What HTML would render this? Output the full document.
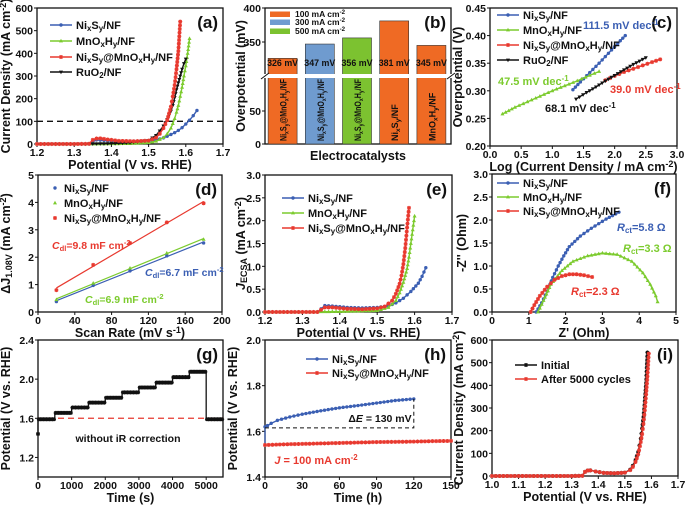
<!DOCTYPE html>
<html><head><meta charset="utf-8">
<style>
html,body{margin:0;padding:0;background:#fff;}
svg{display:block;font-family:"Liberation Sans",Arial,sans-serif;font-weight:bold;}
</style></head>
<body>
<svg id="fig" width="685" height="505" viewBox="0 0 685 505" xmlns="http://www.w3.org/2000/svg"></svg>
<script>
// ---------- data ----------
// (a) LSV
const aNiS_V=[1.2,1.25,1.3,1.34,1.35,1.36,1.38,1.4,1.43,1.46,1.5,1.52,1.54,1.55,1.56,1.57,1.58,1.59,1.6,1.61,1.62,1.63];
const aNiS_J=[0,0,0,0,10,18,16,13,12,12,14,18,27,34,42,50,60,72,88,105,125,148];
const aMn_V=[1.2,1.25,1.3,1.35,1.4,1.45,1.5,1.52,1.54,1.55,1.56,1.565,1.57,1.575,1.58,1.585,1.59,1.595,1.6,1.605,1.61];
const aMn_J=[0,0,0,0,1,2,6,12,28,45,70,90,112,140,170,210,250,300,345,400,465];
const aNM_V=[1.2,1.25,1.3,1.34,1.35,1.36,1.37,1.39,1.42,1.46,1.5,1.52,1.53,1.54,1.55,1.555,1.56,1.565,1.57,1.575,1.58,1.585];
const aNM_J=[0,0,0,1,18,24,25,20,14,12,15,28,45,70,105,135,165,210,260,330,410,540];
const aRu_V=[1.2,1.3,1.4,1.45,1.5,1.52,1.53,1.54,1.55,1.56,1.565,1.57,1.575,1.58,1.585,1.59,1.595,1.6];
const aRu_J=[0,0,2,6,16,38,58,80,108,145,170,205,240,270,300,330,355,375];
// (b) bars
const bCats=["Ni_xS_y@MnO_xH_y/NF","Ni_xS_y@MnO_xH_y/NF","Ni_xS_y@MnO_xH_y/NF","Ni_xS_y/NF","MnO_xH_y/NF"];
const bVals=[326,347,356,381,345];
const bColors=["#ef6a24","#6f9bcf","#7cc230","#ef6a24","#ef6a24"];
// (c) Tafel
const cNiS_x=[1.33,1.45,1.6,1.75,1.9,2.05,2.17];
const cNiS_y=[0.302,0.316,0.333,0.350,0.368,0.386,0.400];
const cMn_x=[0.2,0.4,0.6,0.8,1.0,1.2,1.4,1.6,1.75];
const cMn_y=[0.258,0.270,0.280,0.290,0.300,0.309,0.318,0.328,0.335];
const cNM_x=[1.85,2.0,2.15,2.3,2.45,2.6,2.73];
const cNM_y=[0.319,0.327,0.334,0.340,0.346,0.352,0.357];
const cRu_x=[1.38,1.55,1.7,1.85,2.0,2.15,2.3,2.5];
const cRu_y=[0.285,0.297,0.307,0.318,0.328,0.338,0.348,0.360];
// (d) Cdl
const dRate=[20,60,100,140,180];
const dNiS=[0.38,0.97,1.5,2.05,2.52];
const dMn=[0.45,1.05,1.6,2.15,2.65];
const dNM=[0.8,1.72,2.52,3.27,3.97];
// (e) ECSA-normalised
const eNiS_V=[1.2,1.3,1.34,1.36,1.38,1.42,1.46,1.5,1.53,1.55,1.57,1.59,1.61,1.62,1.63];
const eNiS_J=[0,0,0,0.14,0.13,0.1,0.09,0.1,0.13,0.2,0.3,0.45,0.63,0.78,0.97];
const eMn_V=[1.2,1.3,1.4,1.5,1.53,1.55,1.56,1.57,1.58,1.585,1.59,1.595,1.6];
const eMn_J=[0,0,0.01,0.03,0.1,0.25,0.42,0.65,0.95,1.2,1.5,1.8,2.1];
const eNM_V=[1.2,1.3,1.34,1.36,1.38,1.42,1.46,1.5,1.52,1.54,1.55,1.56,1.565,1.57,1.575,1.58,1.585];
const eNM_J=[0,0,0,0.1,0.1,0.07,0.06,0.08,0.12,0.25,0.4,0.62,0.8,1.05,1.4,1.85,2.28];
// (f) Nyquist
const fNiS_x=[1.2,1.35,1.5,1.65,1.8,1.95,2.1,2.4,2.7,3.1,3.45];
const fNiS_y=[0,0.2,0.45,0.75,1.0,1.22,1.42,1.65,1.82,2.02,2.17];
const fMn_x=[1.25,1.4,1.6,1.9,2.2,2.6,3.0,3.4,3.8,4.1,4.3,4.45,4.5];
const fMn_y=[0,0.25,0.6,0.9,1.1,1.22,1.28,1.25,1.1,0.85,0.6,0.35,0.22];
const fNM_x=[1.05,1.15,1.3,1.5,1.7,1.9,2.1,2.3,2.5,2.72];
const fNM_y=[0,0.15,0.35,0.55,0.7,0.78,0.82,0.82,0.8,0.76];
// (g) multistep
const gStepStart=[0,500,1000,1500,2000,2500,3000,3500,4000,4500,5000];
const gStepV=[1.59,1.655,1.71,1.76,1.81,1.865,1.915,1.965,2.02,2.075,1.59];
// (h) stability
const hNiS_t=[0,2,5,10,20,30,45,60,75,90,105,120];
const hNiS_V=[1.62,1.625,1.635,1.648,1.663,1.675,1.69,1.703,1.713,1.724,1.735,1.742];
const hNM_t=[0,15,30,45,60,75,90,105,120,135,150];
const hNM_V=[1.54,1.543,1.545,1.547,1.549,1.551,1.553,1.554,1.555,1.557,1.558];
// (i) cycling
const iIni_V=[1.0,1.1,1.2,1.3,1.34,1.35,1.36,1.37,1.39,1.42,1.46,1.5,1.52,1.53,1.54,1.55,1.555,1.56,1.565,1.57,1.575,1.58,1.585];
const iIni_J=[0,0,0,0,1,18,24,25,20,14,12,15,28,45,70,105,135,165,210,260,330,410,545];
const iAft_V=[1.0,1.1,1.2,1.3,1.34,1.35,1.36,1.37,1.39,1.42,1.46,1.5,1.52,1.53,1.54,1.55,1.56,1.565,1.57,1.575,1.58,1.585,1.59];
const iAft_J=[0,0,0,0,1,18,24,25,20,14,12,15,26,40,62,95,150,185,230,290,360,440,540];

// ---------- helpers ----------
const NS="http://www.w3.org/2000/svg";
const fig=document.getElementById('fig');
const BLUE="#3b5fb3",GREEN="#7ccb2e",RED="#e8392f",BLACK="#111";
function el(tag,attrs,name,parent){
  const e=document.createElementNS(NS,tag);
  for(const k in attrs)e.setAttribute(k,attrs[k]);
  
  
  (parent||fig).appendChild(e);return e;
}
function fmt(s){
  return s.replace(/_\{([^}]*)\}|_(\w)/g,(m,a,b)=>'<tspan baseline-shift="-25%" font-size="72%">'+(a||b)+'</tspan>')
          .replace(/\^\{([^}]*)\}/g,(m,a)=>'<tspan baseline-shift="45%" font-size="72%">'+a+'</tspan>');
}
function txt(x,y,s,o,name,parent){
  const t=el('text',Object.assign({x:x,y:y,'font-size':11,fill:'#111'},o||{}),name,parent);
  t.innerHTML=fmt(s);return t;
}
function axes(p){
  const [l,t,r,b]=p.box;
  const X=v=>l+(v-p.xd[0])/(p.xd[1]-p.xd[0])*(r-l);
  const Y=p.Y||(v=>b-(v-p.yd[0])/(p.yd[1]-p.yd[0])*(b-t));
  el('rect',{x:l,y:t,width:r-l,height:b-t,fill:'none',stroke:'#111','stroke-width':1.3},p.n+'-frame');
  p.xt.forEach(v=>{
    el('line',{x1:X(v),x2:X(v),y1:b,y2:b+3,stroke:'#111','stroke-width':1},p.n+'-x-tick');
    txt(X(v),b+12,String(p.xf?p.xf(v):v),{'text-anchor':'middle','font-size':10.5},p.n+'-x-tick-label');
  });
  p.yt.forEach(v=>{
    el('line',{x1:l-3,x2:l,y1:Y(v),y2:Y(v),stroke:'#111','stroke-width':1},p.n+'-y-tick');
    txt(l-4,Y(v)+4,String(p.yf?p.yf(v):v),{'text-anchor':'end','font-size':10.5},p.n+'-y-tick-label');
  });
  txt((l+r)/2,b+(p.xto||25),p.xt_title,{'text-anchor':'middle','font-size':12.5},p.n+'-x-axis-title');
  txt(0,0,p.yt_title,{'text-anchor':'middle','font-size':12.5,transform:`translate(${p.ytx},${(t+b)/2}) rotate(-90)`},p.n+'-y-axis-title');
  txt(r-5,t+20,p.label,{'text-anchor':'end','font-size':17},p.n+'-panel-label');
  return {X,Y};
}
function marker(x,y,shape,c,name){
  if(shape==='c')el('circle',{cx:x,cy:y,r:1.7,fill:c},name);
  else if(shape==='t')el('path',{d:`M${x} ${y-2.2}L${x+2} ${y+1.4}L${x-2} ${y+1.4}Z`,fill:c},name);
  else if(shape==='v')el('path',{d:`M${x} ${y+2.2}L${x+2} ${y-1.4}L${x-2} ${y-1.4}Z`,fill:c},name);
  else el('path',{d:`M${x-2} ${y}L${x+2} ${y}M${x} ${y-2}L${x} ${y+2}M${x-1.5} ${y-1.5}L${x+1.5} ${y+1.5}M${x-1.5} ${y+1.5}L${x+1.5} ${y-1.5}`,stroke:c,'stroke-width':1.1},name);
}
function series(ax,xs,ys,c,shape,name,noline){
  const pts=xs.map((v,i)=>[ax.X(v),ax.Y(ys[i])]);
  if(!noline)el('polyline',{points:pts.map(p=>p.join(',')).join(' '),fill:'none',stroke:c,'stroke-width':1.4},name+'-line');
  for(let i=0;i<pts.length;i++){
    marker(pts[i][0],pts[i][1],shape,c,name+'-point');
    if(i<pts.length-1&&!noline){
      const dx=pts[i+1][0]-pts[i][0],dy=pts[i+1][1]-pts[i][1],d=Math.hypot(dx,dy),n=Math.floor(d/3.5);
      for(let k=1;k<n;k++)marker(pts[i][0]+dx*k/n,pts[i][1]+dy*k/n,shape,c,name+'-point');
    }
  }
}
function legend(x,y,s,c,shape,name,noline){
  if(!noline)el('line',{x1:x,x2:x+22,y1:y,y2:y,stroke:c,'stroke-width':1.5},name+'-legend-line');
  marker(noline?x+5:x+11,y,shape,c,name+'-legend-marker');
  txt(noline?x+14:x+26,y+4,s,{'font-size':11},name+'-legend-label');
}

// ---------- (a) ----------
let A=axes({n:'a',box:[37,8,223,144],xd:[1.2,1.7],yd:[0,600],xt:[1.2,1.3,1.4,1.5,1.6,1.7],yt:[0,100,200,300,400,500,600],xf:v=>v.toFixed(1),
  xt_title:'Potential (V vs. RHE)',yt_title:'Current Density (mA cm^{-2})',ytx:10,label:'(a)'});
el('line',{x1:37,x2:223,y1:A.Y(100),y2:A.Y(100),stroke:'#111','stroke-dasharray':'6,4','stroke-width':1.3},'a-100ma-reference-line');
series(A,aNiS_V,aNiS_J,BLUE,'c','a-nis');
series(A,aMn_V,aMn_J,GREEN,'t','a-mnoh');
series(A,aRu_V,aRu_J,BLACK,'v','a-ruo2');
series(A,aNM_V,aNM_J,RED,'s','a-nis-mnoh');
legend(50,25,'Ni_xS_y/NF',BLUE,'c','a-nis');
legend(50,41,'MnO_xH_y/NF',GREEN,'t','a-mnoh');
legend(50,57,'Ni_xS_y@MnO_xH_y/NF',RED,'s','a-nis-mnoh');
legend(50,72,'RuO_2/NF',BLACK,'v','a-ruo2');

// ---------- (b) ----------
const bY=v=>v>=300?8+(400-v)*0.68:144-v*0.66;
let B=axes({n:'b',box:[265,8,451,144],xd:[0,5],yd:[0,400],Y:bY,xt:[],yt:[0,50,350,400],xto:16,
  xt_title:'Electrocatalysts',yt_title:'Overpotential (mV)',ytx:245,label:'(b)'});
bVals.forEach((v,i)=>{
  const cx=B.X(i+0.5)-1;
  el('rect',{x:cx-14.5,y:bY(v),width:29,height:144-bY(v),fill:bColors[i],stroke:'#333','stroke-width':0.6},'b-bar');
  txt(cx,66,v+' mV',{'text-anchor':'middle','font-size':9.5,textLength:31,lengthAdjust:'spacingAndGlyphs'},'b-bar-value');
  const long=bCats[i].length>12;
  const o={'font-size':9,transform:`translate(${cx+4},141) rotate(-90)`};
  if(long){o.textLength=62;o.lengthAdjust='spacingAndGlyphs';}
  txt(0,0,bCats[i],o,'b-bar-category');
});
el('rect',{x:258,y:74,width:200,height:4,fill:'#fff'},'b-axis-break');
el('path',{d:'M261 79L269 73M447 79L455 73',stroke:'#111','stroke-width':1},'b-break-marks');
[['100 mA cm^{-2}','#ef6a24',14],['300 mA cm^{-2}','#6f9bcf',22],['500 mA cm^{-2}','#7cc230',31]].forEach(d=>{
  el('rect',{x:270,y:d[2]-2.5,width:20,height:5.5,fill:d[1]},'b-legend-swatch');
  txt(295,d[2]+3,d[0],{'font-size':8.5},'b-legend-label');
});

// ---------- (c) ----------
let C=axes({n:'c',box:[490,8,677,146],xd:[0,3.0],yd:[0.2,0.45],xt:[0,0.5,1,1.5,2,2.5,3],yt:[0.2,0.25,0.3,0.35,0.4,0.45],xf:v=>v.toFixed(1),yf:v=>v.toFixed(2),
  xt_title:'Log (Current Density / mA cm^{-2})',yt_title:'Overpotential (V)',ytx:462,label:'(c)'});
series(C,cNiS_x,cNiS_y,BLUE,'c','c-nis');
series(C,cMn_x,cMn_y,GREEN,'t','c-mnoh');
series(C,cNM_x,cNM_y,RED,'s','c-nis-mnoh');
series(C,cRu_x,cRu_y,BLACK,'v','c-ruo2');
legend(497,15,'Ni_xS_y/NF',BLUE,'c','c-nis');
legend(497,30,'MnO_xH_y/NF',GREEN,'t','c-mnoh');
legend(497,45,'Ni_xS_y@MnO_xH_y/NF',RED,'s','c-nis-mnoh');
legend(497,60,'RuO_2/NF',BLACK,'v','c-ruo2');
txt(583,29,'111.5 mV dec^{-1}',{fill:BLUE,'font-size':11},'c-nis-slope');
txt(498,85,'47.5 mV dec^{-1}',{fill:GREEN,'font-size':11},'c-mnoh-slope');
txt(610,93,'39.0 mV dec^{-1}',{fill:RED,'font-size':11},'c-nis-mnoh-slope');
txt(545,112,'68.1 mV dec^{-1}',{fill:BLACK,'font-size':11},'c-ruo2-slope');

// ---------- (d) ----------
let D=axes({n:'d',box:[38,175,222,312],xd:[0,200],yd:[0,5],xt:[0,40,80,120,160,200],yt:[0,1,2,3,4,5],
  xt_title:'Scan Rate (mV s^{-1})',yt_title:'ΔJ_{1.08V} (mA cm^{-2})',ytx:10,label:'(d)'});
function fitLine(xs,ys,c,name){
  const n=xs.length,mx=xs.reduce((a,b)=>a+b)/n,my=ys.reduce((a,b)=>a+b)/n;
  let sxy=0,sxx=0;xs.forEach((x,i)=>{sxy+=(x-mx)*(ys[i]-my);sxx+=(x-mx)**2;});
  const k=sxy/sxx,b0=my-k*mx;
  el('line',{x1:D.X(xs[0]),y1:D.Y(b0+k*xs[0]),x2:D.X(xs[n-1]),y2:D.Y(b0+k*xs[n-1]),stroke:c,'stroke-width':1.2},name+'-fit-line');
}
fitLine(dRate,dNiS,BLUE,'d-nis');fitLine(dRate,dMn,GREEN,'d-mnoh');fitLine(dRate,dNM,RED,'d-nis-mnoh');
series(D,dRate,dNiS,BLUE,'c','d-nis',true);
series(D,dRate,dMn,GREEN,'t','d-mnoh',true);
series(D,dRate,dNM,RED,'s','d-nis-mnoh',true);
legend(50,188,'Ni_xS_y/NF',BLUE,'c','d-nis',true);
legend(50,203,'MnO_xH_y/NF',GREEN,'t','d-mnoh',true);
legend(50,218,'Ni_xS_y@MnO_xH_y/NF',RED,'s','d-nis-mnoh',true);
txt(52,249,'<tspan font-style="italic">C</tspan>_{dl}=9.8 mF cm^{-2}',{fill:RED,'font-size':10.5},'d-nis-mnoh-cdl');
txt(145,276,'<tspan font-style="italic">C</tspan>_{dl}=6.7 mF cm^{-2}',{fill:BLUE,'font-size':10.5},'d-nis-cdl');
txt(85,303,'<tspan font-style="italic">C</tspan>_{dl}=6.9 mF cm^{-2}',{fill:GREEN,'font-size':10.5},'d-mnoh-cdl');

// ---------- (e) ----------
let E=axes({n:'e',box:[265,175,452,312],xd:[1.2,1.7],yd:[0,3],xt:[1.2,1.3,1.4,1.5,1.6,1.7],yt:[0,0.5,1,1.5,2,2.5,3],xf:v=>v.toFixed(1),yf:v=>v.toFixed(1),
  xt_title:'Potential (V vs. RHE)',yt_title:'<tspan font-style="italic">J</tspan>_{ECSA} (mA cm^{-2})',ytx:245,label:'(e)'});
series(E,eNiS_V,eNiS_J,BLUE,'c','e-nis');
series(E,eMn_V,eMn_J,GREEN,'t','e-mnoh');
series(E,eNM_V,eNM_J,RED,'s','e-nis-mnoh');
legend(282,198,'Ni_xS_y/NF',BLUE,'c','e-nis');
legend(282,213,'MnO_xH_y/NF',GREEN,'t','e-mnoh');
legend(282,228,'Ni_xS_y@MnO_xH_y/NF',RED,'s','e-nis-mnoh');

// ---------- (f) ----------
let F=axes({n:'f',box:[492,174,676,312],xd:[0,5],yd:[0,3],xt:[0,1,2,3,4,5],yt:[0,0.5,1,1.5,2,2.5,3],yf:v=>v.toFixed(1),
  xt_title:"Z' (Ohm)",yt_title:"-Z'' (Ohm)",ytx:466,label:'(f)'});
series(F,fNiS_x,fNiS_y,BLUE,'c','f-nis');
series(F,fMn_x,fMn_y,GREEN,'t','f-mnoh');
series(F,fNM_x,fNM_y,RED,'s','f-nis-mnoh');
legend(497,183,'Ni_xS_y/NF',BLUE,'c','f-nis');
legend(497,197,'MnO_xH_y/NF',GREEN,'t','f-mnoh');
legend(497,211,'Ni_xS_y@MnO_xH_y/NF',RED,'s','f-nis-mnoh');
txt(617,231,'<tspan font-style="italic">R</tspan>_{ct}=5.8 Ω',{fill:BLUE,'font-size':11},'f-nis-rct');
txt(623,252,'<tspan font-style="italic">R</tspan>_{ct}=3.3 Ω',{fill:GREEN,'font-size':11},'f-mnoh-rct');
txt(571,295,'<tspan font-style="italic">R</tspan>_{ct}=2.3 Ω',{fill:RED,'font-size':11},'f-nis-mnoh-rct');

// ---------- (g) ----------
let G=axes({n:'g',box:[38,340,223,477],xd:[0,5500],yd:[1.0,2.4],xt:[0,1000,2000,3000,4000,5000],yt:[1.2,1.6,2.0,2.4],yf:v=>v.toFixed(1),
  xt_title:'Time (s)',yt_title:'Potential (V vs. RHE)',ytx:10,label:'(g)'});
el('line',{x1:38,x2:223,y1:G.Y(1.6),y2:G.Y(1.6),stroke:RED,'stroke-dasharray':'6,4','stroke-width':1.2},'g-reference-line');
{
  const gx=[0],gy=[1.44];
  gStepStart.forEach((s,i)=>{gx.push(s,Math.min(s+500,5500));gy.push(gStepV[i],gStepV[i]);});
  el('polyline',{points:gx.map((x,i)=>G.X(x)+','+G.Y(gy[i])).join(' '),fill:'none',stroke:BLACK,'stroke-width':1.3},'g-step-line');
  gStepStart.forEach((s,i)=>{for(let k=0;k<=10;k++)marker(G.X(s+25+k*45),G.Y(gStepV[i]),'s',BLACK,'g-step-point');});
  marker(G.X(0),G.Y(1.44),'s',BLACK,'g-start-point');
}
txt(128,442,'without iR correction',{'text-anchor':'middle','font-size':10.5},'g-annotation');

// ---------- (h) ----------
let H=axes({n:'h',box:[265,340,451,477],xd:[0,150],yd:[1.4,2.0],xt:[0,30,60,90,120,150],yt:[1.4,1.6,1.8,2.0],yf:v=>v.toFixed(1),
  xt_title:'Time (h)',yt_title:'Potential (V vs. RHE)',ytx:237,label:'(h)'});
el('polyline',{points:`${H.X(0)},${H.Y(1.545)} ${H.X(0)},${H.Y(1.62)}`,fill:'none',stroke:BLUE,'stroke-width':1.3},'h-nis-initial');
series(H,hNiS_t,hNiS_V,BLUE,'c','h-nis');
series(H,hNM_t,hNM_V,RED,'s','h-nis-mnoh');
el('path',{d:`M${H.X(0)} ${H.Y(1.615)}H${H.X(120)}V${H.Y(1.742)}`,fill:'none',stroke:'#111','stroke-dasharray':'4,3','stroke-width':1},'h-delta-e-bracket');
txt(380,422,'Δ<tspan font-style="italic">E</tspan> = 130 mV',{'text-anchor':'middle','font-size':10.5},'h-delta-e-label');
txt(316,464,'<tspan font-style="italic">J</tspan> = 100 mA cm^{-2}',{'text-anchor':'middle','font-size':11,fill:RED},'h-current-label');
legend(306,359,'Ni_xS_y/NF',BLUE,'c','h-nis');
legend(306,373,'Ni_xS_y@MnO_xH_y/NF',RED,'s','h-nis-mnoh');

// ---------- (i) ----------
let I=axes({n:'i',box:[492,340,678,476],xd:[1.0,1.7],yd:[0,600],xt:[1.0,1.1,1.2,1.3,1.4,1.5,1.6,1.7],yt:[0,100,200,300,400,500,600],xf:v=>v.toFixed(1),
  xt_title:'Potential (V vs. RHE)',yt_title:'Current Density (mA cm^{-2})',ytx:463,label:'(i)'});
series(I,iIni_V,iIni_J,BLACK,'s','i-initial');
series(I,iAft_V,iAft_J,RED,'s','i-after-5000');
legend(515,365,'Initial',BLACK,'s','i-initial');
legend(515,379,'After 5000 cycles',RED,'s','i-after-5000');
</script>
</body></html>
